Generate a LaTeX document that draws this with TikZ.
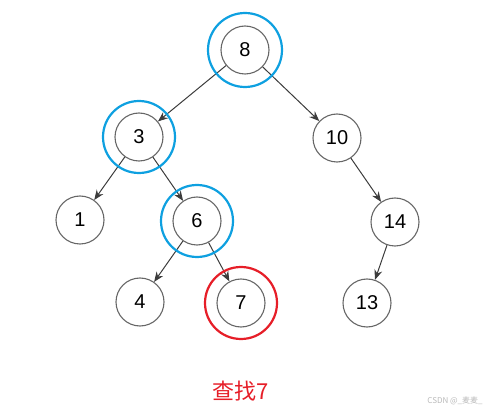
\documentclass[tikz,border=0pt]{standalone}
\usepackage{fontspec}
\setmainfont{Liberation Sans}
\newfontfamily\cjk{Noto Sans CJK SC}
\usepackage{xcolor}
\definecolor{ringgray}{HTML}{666666}
\definecolor{edgegray}{HTML}{3C3C3C}
\definecolor{pathblue}{HTML}{0EA0E0}
\definecolor{hitred}{HTML}{E61E28}
\usepackage{tikz}
\usetikzlibrary{arrows.meta, positioning}

\begin{document}
\begin{tikzpicture}[>={Stealth[length=10pt, width=8pt]}, on grid,
  key/.style={circle, draw=ringgray, line width=1.1pt, minimum size=48pt,
              inner sep=0pt, font=\fontsize{20}{24}\selectfont},
  edge/.style={->, edgegray, line width=1pt},
  visit/.style={draw=pathblue, line width=2.2pt},
  found/.style={draw=hitred, line width=2.2pt}]

  \useasboundingbox (0,0) rectangle (493pt,-414pt);

  % root
  \node[key] (n8) at (245pt,-50pt) {8};

  % level 1
  \node[key, below left=87pt and 106pt of n8] (n3) {3};
  \node[key, below right=88pt and 92pt of n8] (n10) {10};

  % level 2
  \node[key, below left=83pt and 59pt of n3] (n1) {1};
  \node[key, below right=84pt and 58pt of n3] (n6) {6};
  \node[key, below right=84pt and 58pt of n10] (n14) {14};

  % level 3
  \node[key, below left=81pt and 57pt of n6] (n4) {4};
  \node[key, below right=82pt and 44pt of n6] (n7) {7};
  \node[key, below left=81pt and 28pt of n14] (n13) {13};

  % edges
  \draw[edge] (n8) -- (n3);
  \draw[edge] (n8) -- (n10);
  \draw[edge] (n3) -- (n1);
  \draw[edge] (n3) -- (n6);
  \draw[edge] (n10) -- (n14);
  \draw[edge] (n6) -- (n4);
  \draw[edge] (n6) -- (n7);
  \draw[edge] (n14) -- (n13);

  % search path
  \draw[visit] (n8) circle (37pt);
  \draw[visit] (n3) circle (36pt);
  \draw[visit] (n6) circle (36pt);
  \draw[found] (n7) circle (36pt);

  % caption
  \node[font=\cjk\fontsize{22}{26}\selectfont, text=hitred,
        below=88pt of n7] (title) {查找7};
  \node[font=\cjk\fontsize{8}{10}\selectfont, text=gray!55]
        (mark) at (455pt,-401pt) {CSDN @\_麦麦\_};

\end{tikzpicture}
\end{document}
